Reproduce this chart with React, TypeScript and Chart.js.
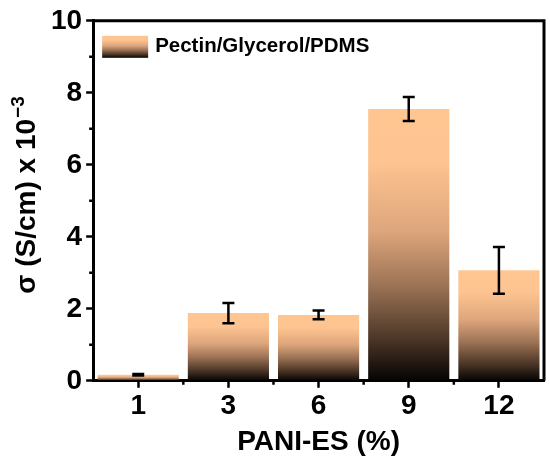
import React, { useEffect, useRef } from 'react';
import { Chart, registerables } from 'chart.js';

Chart.register(...registerables);

const categories = ['1', '3', '6', '9', '12'];
const conductivity = [0.17, 1.88, 1.83, 7.55, 3.07];
const errors = [0.02, 0.28, 0.12, 0.33, 0.65];
const yTicks = [0, 2, 4, 6, 8, 10];
const seriesLabel = 'Pectin/Glycerol/PDMS';
const yTitle = 'σ (S/cm) x 10';
const yTitleExp = '−3';

const FONT = "'Liberation Sans', Arial, sans-serif";
const PEACH = '#FFC692';

const fillGradient = (ctx: CanvasRenderingContext2D, top: number, bottom: number) => {
  const g = ctx.createLinearGradient(0, top, 0, bottom);
  g.addColorStop(0, PEACH);
  g.addColorStop(0.2, '#FDC390');
  g.addColorStop(0.45, '#DDA57C');
  g.addColorStop(0.65, '#9C7355');
  g.addColorStop(0.85, '#4A3526');
  g.addColorStop(1, '#050302');
  return g;
};

// frame, minor ticks, error bars, y title and the inset legend
const decorations = {
  id: 'decorations',
  afterDatasetsDraw(chart: any) {
    const { ctx, scales } = chart;
    const meta = chart.getDatasetMeta(0);
    ctx.save();
    ctx.strokeStyle = '#000';
    ctx.lineWidth = 2.5;
    meta.data.forEach((bar: any, i: number) => {
      const yHi = scales.y.getPixelForValue(conductivity[i] + errors[i]);
      const yLo = scales.y.getPixelForValue(conductivity[i] - errors[i]);
      const cap = 6;
      ctx.beginPath();
      ctx.moveTo(bar.x, yHi);
      ctx.lineTo(bar.x, yLo);
      ctx.moveTo(bar.x - cap, yHi);
      ctx.lineTo(bar.x + cap, yHi);
      ctx.moveTo(bar.x - cap, yLo);
      ctx.lineTo(bar.x + cap, yLo);
      ctx.stroke();
    });
    ctx.restore();
  },
  afterDraw(chart: any) {
    const { ctx, chartArea: a, scales } = chart;
    ctx.save();
    ctx.strokeStyle = '#000';
    ctx.lineWidth = 3;
    ctx.beginPath();
    ctx.moveTo(a.left, a.top);
    ctx.lineTo(a.right, a.top);
    ctx.lineTo(a.right, a.bottom);
    ctx.stroke();

    // minor ticks
    ctx.lineWidth = 2.5;
    ctx.beginPath();
    for (let v = 1; v < 10; v += 2) {
      const y = scales.y.getPixelForValue(v);
      ctx.moveTo(a.left, y);
      ctx.lineTo(a.left - 4, y);
    }
    for (let i = 0; i < categories.length - 1; i++) {
      const x = (scales.x.getPixelForValue(i) + scales.x.getPixelForValue(i + 1)) / 2;
      ctx.moveTo(x, a.bottom);
      ctx.lineTo(x, a.bottom + 4);
    }
    ctx.stroke();

    // y title with superscript
    ctx.fillStyle = '#000';
    ctx.textBaseline = 'alphabetic';
    ctx.textAlign = 'left';
    const mainFont = `bold 28px ${FONT}`;
    const supFont = `bold 19px ${FONT}`;
    ctx.font = mainFont;
    const wMain = ctx.measureText(yTitle).width;
    ctx.font = supFont;
    const wSup = ctx.measureText(yTitleExp).width;
    const total = wMain + wSup + 1;
    ctx.translate(35, 195);
    ctx.rotate(-Math.PI / 2);
    ctx.font = mainFont;
    ctx.fillText(yTitle, -total / 2, 0);
    ctx.font = supFont;
    ctx.fillText(yTitleExp, -total / 2 + wMain + 1, -11);
    ctx.setTransform(1, 0, 0, 1, 0, 0);
    ctx.restore();

    ctx.save();
    // legend
    const bx = a.left + 9;
    const by = a.top + 15;
    ctx.fillStyle = fillGradient(ctx, by, by + 22);
    ctx.fillRect(bx, by, 46, 22);
    ctx.fillStyle = '#000';
    ctx.font = `bold 20.5px ${FONT}`;
    ctx.textBaseline = 'middle';
    ctx.fillText(seriesLabel, bx + 53, by + 11);
    ctx.restore();
  },
};

const App = () => {
  const canvasRef = useRef<HTMLCanvasElement>(null);

  useEffect(() => {
    if (!canvasRef.current) return;
    const chart = new Chart(canvasRef.current, {
      type: 'bar',
      data: {
        labels: categories,
        datasets: [
          {
            label: seriesLabel,
            data: conductivity,
            barPercentage: 0.9,
            categoryPercentage: 1.0,
            backgroundColor: (context: any) => {
              const { ctx, chartArea, scales } = context.chart;
              if (!chartArea || context.dataIndex === undefined) return PEACH;
              const top = scales.y.getPixelForValue(conductivity[context.dataIndex]);
              const bottom = scales.y.getPixelForValue(0);
              return fillGradient(ctx, top, bottom);
            },
          },
        ],
      },
      options: {
        animation: false,
        responsive: true,
        maintainAspectRatio: false,
        layout: { padding: { top: 19, right: 6, left: 47, bottom: 6 } },
        plugins: {
          legend: { display: false },
          tooltip: { enabled: false },
        },
        scales: {
          x: {
            grid: {
              offset: false,
              drawOnChartArea: false,
              tickLength: 7,
              tickWidth: 2.5,
              tickColor: '#000',
            },
            border: { color: '#000', width: 3 },
            ticks: { color: '#000', font: { family: FONT, weight: 'bold', size: 28 }, padding: 2 },
            title: {
              display: true,
              text: 'PANI-ES (%)',
              color: '#000',
              font: { family: FONT, weight: 'bold', size: 28 },
              padding: { top: 0, bottom: 0 },
            },
          },
          y: {
            min: 0,
            max: 10,
            afterBuildTicks: (scale: any) => {
              scale.ticks = yTicks.map((v) => ({ value: v }));
            },
            grid: {
              drawOnChartArea: false,
              tickLength: 7,
              tickWidth: 2.5,
              tickColor: '#000',
            },
            border: { color: '#000', width: 3 },
            ticks: { color: '#000', font: { family: FONT, weight: 'bold', size: 28 }, padding: 4 },
          },
        },
      },
      plugins: [decorations],
    });
    return () => chart.destroy();
  }, []);

  return (
    <div style={{ position: 'absolute', left: 0, top: 0, width: 550, height: 465, background: '#fff' }}>
      <canvas ref={canvasRef} />
    </div>
  );
};

export default App;
